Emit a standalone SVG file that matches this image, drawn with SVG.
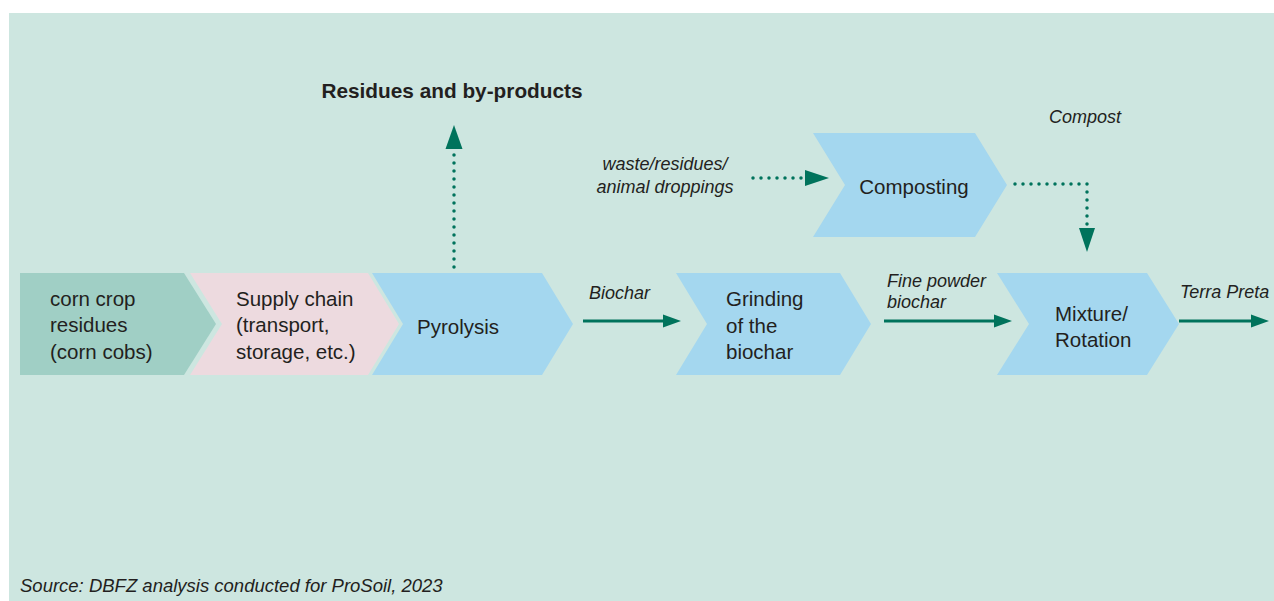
<svg xmlns="http://www.w3.org/2000/svg" width="1274" height="601" viewBox="0 0 1274 601">
<style>
.lbl{font-family:"Liberation Sans",Arial,sans-serif;font-size:20.5px;fill:#231f20}
.it{font-family:"Liberation Sans",Arial,sans-serif;font-size:18px;font-style:italic;fill:#231f20}
.title{font-family:"Liberation Sans",Arial,sans-serif;font-size:20.8px;font-weight:bold;fill:#231f20}
.solid{stroke:#00735c;stroke-width:3;fill:none}
.dot{stroke:#00735c;stroke-width:3.5;fill:none;stroke-linecap:round;stroke-dasharray:0 8}
.head{fill:#00735c}
</style>
<rect x="0" y="0" width="1274" height="601" fill="#ffffff"/>
<rect x="9" y="13" width="1265" height="588" fill="#cde6e0"/>
<g id="n-corn">
<path d="M20,273 L184,273 L216,324 L184,375 L20,375 Z" fill="#a0cfc5"/>
<text class="lbl" x="50" y="306">corn crop</text>
<text class="lbl" x="50" y="332">residues</text>
<text class="lbl" x="50" y="359">(corn cobs)</text>
</g>
<g id="n-supply">
<path d="M190,273 L368,273 L399,324 L368,375 L190,375 L222,324 Z" fill="#eddadf"/>
<text class="lbl" x="236" y="306">Supply chain</text>
<text class="lbl" x="236" y="332">(transport,</text>
<text class="lbl" x="236" y="359">storage, etc.)</text>
</g>
<g id="n-pyrolysis">
<path d="M372,273 L542,273 L573,324 L542,375 L372,375 L403,324 Z" fill="#a4d7ef"/>
<text class="lbl" x="417" y="334">Pyrolysis</text>
</g>
<g id="n-grinding">
<path d="M676,273 L840,273 L871,324 L840,375 L676,375 L707,324 Z" fill="#a4d7ef"/>
<text class="lbl" x="726" y="306">Grinding</text>
<text class="lbl" x="726" y="333">of the</text>
<text class="lbl" x="726" y="359">biochar</text>
</g>
<g id="n-mixture">
<path d="M997,273 L1147,273 L1179,324 L1147,375 L997,375 L1029,324 Z" fill="#a4d7ef"/>
<text class="lbl" x="1055" y="321">Mixture/</text>
<text class="lbl" x="1055" y="347">Rotation</text>
</g>
<g id="n-composting">
<path d="M813,133 L975,133 L1007,185 L975,237 L813,237 L845,185 Z" fill="#a4d7ef"/>
<text class="lbl" x="914" y="194" text-anchor="middle">Composting</text>
</g>
<g id="n-residues">
<text class="title" x="452" y="98" text-anchor="middle">Residues and by-products</text>
</g>
<g id="connectors">
<line class="solid" x1="583" y1="321" x2="665" y2="321"/>
<polygon class="head" points="663,314.5 681,321 663,327.5"/>
<line class="solid" x1="884" y1="321" x2="996" y2="321"/>
<polygon class="head" points="994,314.5 1012,321 994,327.5"/>
<line class="solid" x1="1179" y1="321" x2="1253" y2="321"/>
<polygon class="head" points="1251,314.5 1269,321 1251,327.5"/>
<path class="dot" d="M454,267 L454,150"/>
<polygon class="head" points="445.5,149 454,125 462.5,149"/>
<path class="dot" d="M753,178 L804,178"/>
<polygon class="head" points="805,170 829,178 805,186"/>
<path class="dot" d="M1015,184 L1087,184 L1087,226"/>
<polygon class="head" points="1079,228 1087,252 1095,228"/>
</g>
<g id="labels">
<text class="it" x="589" y="299">Biochar</text>
<text class="it" x="887" y="287">Fine powder</text>
<text class="it" x="887" y="308">biochar</text>
<text class="it" x="1180" y="298">Terra Preta</text>
<text class="it" x="1049" y="123">Compost</text>
<text class="it" x="665" y="170" text-anchor="middle">waste/residues/</text>
<text class="it" x="665" y="193" text-anchor="middle">animal droppings</text>
<text class="it" x="20" y="592" style="font-size:18.5px">Source: DBFZ analysis conducted for ProSoil, 2023</text>
</g>
</svg>
